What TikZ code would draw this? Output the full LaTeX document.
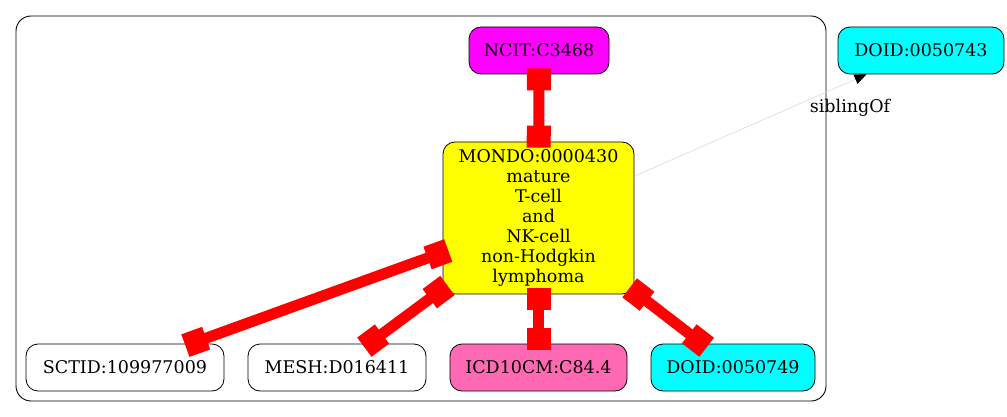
\documentclass[tikz,border=0pt]{standalone}
\usepackage{fontspec}
\setmainfont{DejaVu Serif}
\usetikzlibrary{arrows.meta}
\definecolor{hpink}{HTML}{FF69B4}
\definecolor{mag}{HTML}{FF00FF}
\definecolor{cyn}{HTML}{00FFFF}
\definecolor{yel}{HTML}{FFFF00}
\definecolor{rd}{HTML}{FF0000}
\tikzset{
  term/.style={draw=black, line width=0.8pt, rounded corners=12pt, font=\fontsize{17.5}{20}\selectfont, inner sep=0pt, align=center},
  redge/.style={draw=rd, line width=11pt, {Square[length=22pt,width=24pt]}-{Square[length=22pt,width=24pt]}, shorten <=-6pt, shorten >=-6pt},
  sib/.style={draw=black!15, line width=0.6pt, -{Triangle[length=12pt,width=10pt,fill=black,color=black]}},
  elabel/.style={font=\fontsize{17.5}{20}\selectfont, inner sep=0pt}
}
\begin{document}
\begin{tikzpicture}[x=1pt,y=-1pt]
\useasboundingbox (0,0) rectangle (1007,417);
\draw[line width=0.9pt, rounded corners=15pt] (16,16) rectangle (826,401);
\node[term, fill=mag, minimum width=140pt, minimum height=47pt] (ncit) at (539,50.5) {NCIT:C3468};
\node[term, fill=yel, minimum width=191pt, minimum height=152pt] (mondo) at (538.5,218) {MONDO:0000430\\mature\\T-cell\\and\\NK-cell\\non-Hodgkin\\lymphoma};
\node[term, fill=cyn, minimum width=166pt, minimum height=47pt] (doidA) at (921,50.5) {DOID:0050743};
\node[term, fill=white, minimum width=198pt, minimum height=47pt] (sctid) at (125,367.5) {SCTID:109977009};
\node[term, fill=white, minimum width=178pt, minimum height=47pt] (mesh) at (337,367.5) {MESH:D016411};
\node[term, fill=hpink, minimum width=177pt, minimum height=47pt] (icd) at (538.5,367.5) {ICD10CM:C84.4};
\node[term, fill=cyn, minimum width=164pt, minimum height=47pt] (doidB) at (733,367.5) {DOID:0050749};
\draw[redge] (ncit) -- (mondo);
\draw[redge] (mondo) -- (sctid);
\draw[redge] (mondo) -- (mesh);
\draw[redge] (mondo) -- (icd);
\draw[redge] (mondo) -- (doidB);
\draw[sib] (mondo) -- (doidA);
\node[elabel] (siblab) at (850,108) {siblingOf};
\end{tikzpicture}
\end{document}
